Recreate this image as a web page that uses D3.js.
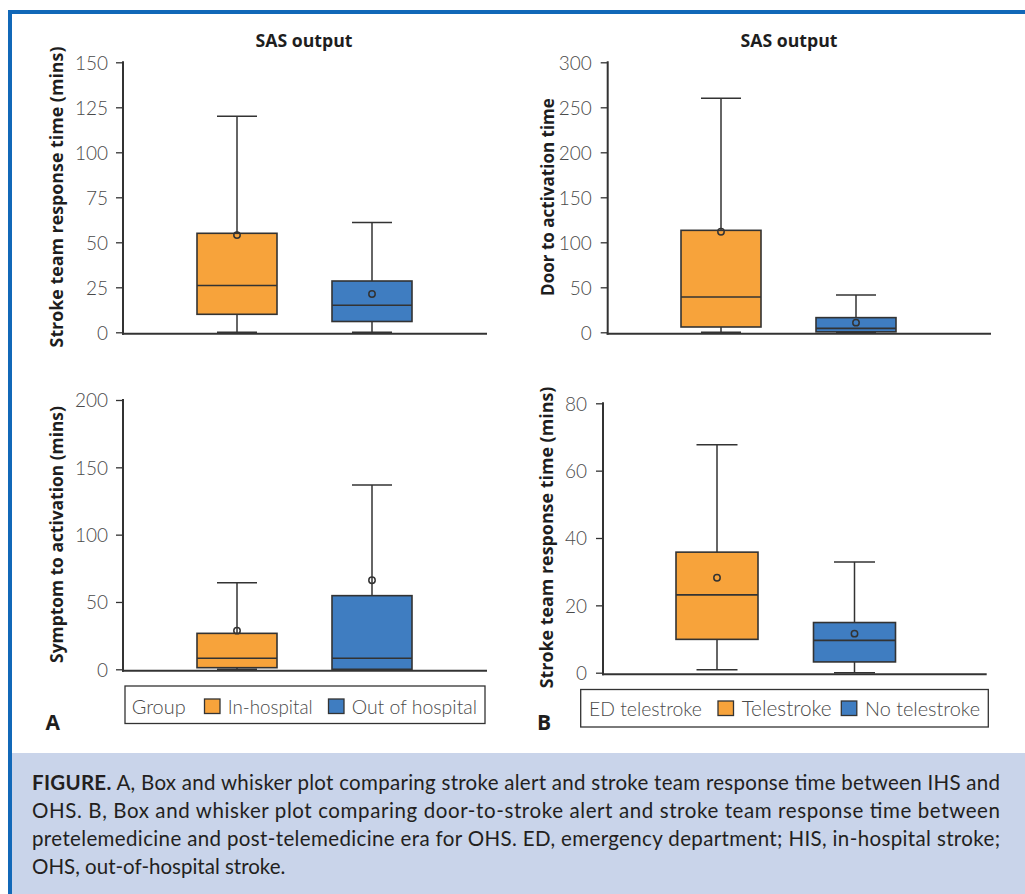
<!DOCTYPE html>
<html>
<head>
<meta charset="utf-8">
<script src="https://cdn.jsdelivr.net/npm/d3@7"></script>
<style>
  html, body { margin: 0; padding: 0; background: #ffffff; }
  svg { display: block; }
</style>
</head>
<body>
<svg id="chart" width="1025" height="894"></svg>
<script>
// ---------------- DATA ----------------
// Each row: [min, q1, median, q3, max, mean]
const groupsA = ["In-hospital", "Out of hospital"];
const groupsB = ["Telestroke", "No telestroke"];

const responseA = [          // Stroke team response time (mins), panel A top
  [0, 10, 26, 55, 120, 54],
  [0, 6, 15, 28.5, 61, 21.3]
];
const symptomA = [           // Symptom to activation (mins), panel A bottom
  [0, 1.2, 8.2, 26.7, 64.3, 28.7],
  [0, 0, 8.2, 54.7, 136.8, 66.1]
];
const doorB = [              // Door to activation time, panel B top
  [0, 5.9, 39.2, 113.3, 260, 111.8],
  [0, 0.5, 4.4, 16.3, 41.4, 10.7]
];
const responseB = [          // Stroke team response time (mins), panel B bottom
  [0.9, 9.9, 23.1, 35.8, 67.7, 28.2],
  [0, 3.2, 9.6, 14.9, 32.9, 11.6]
];

const ticksResponseA = [0, 25, 50, 75, 100, 125, 150];
const ticksSymptomA = [0, 50, 100, 150, 200];
const ticksDoorB = [0, 50, 100, 150, 200, 250, 300];
const ticksResponseB = [0, 20, 40, 60, 80];

const legendTitleA = "Group";
const legendTitleB = "ED telestroke";
const chartTitle = "SAS output";

const captionLines = [
  ["FIGURE.", " A, Box and whisker plot comparing stroke alert and stroke team response time between IHS and"],
  ["", "OHS. B, Box and whisker plot comparing door-to-stroke alert and stroke team response time between"],
  ["", "pretelemedicine and post-telemedicine era for OHS. ED, emergency department; HIS, in-hospital stroke;"],
  ["", "OHS, out-of-hospital stroke."]
];

// ---------------- STYLE ----------------
const ORANGE = "#f7a33b";
const BLUE = "#3f7dc1";
const DARK = "#333333";
const TICKTXT = "#4a4a4a";
const BORDER = "#1168b8";
const CAPBG = "#c9d4ea";
const FONT_T = "Lato, 'Open Sans', sans-serif";
const FONT_B = "'Open Sans', Lato, sans-serif";

const svg = d3.select("#chart");

function fitFont(sel, target) {
  const node = sel.node();
  const fs = parseFloat(sel.attr("font-size"));
  const w = node.getComputedTextLength();
  if (w > 0) sel.attr("font-size", (fs * target / w).toFixed(2));
}

// Frame
svg.append("rect").attr("x", 8).attr("y", 10).attr("width", 1017).attr("height", 4).attr("fill", BORDER);
svg.append("rect").attr("x", 8).attr("y", 10).attr("width", 4).attr("height", 884).attr("fill", BORDER);
svg.append("rect").attr("x", 12).attr("y", 753).attr("width", 1013).attr("height", 141).attr("fill", CAPBG);

// ---------------- PANELS ----------------
const panels = [
  { data: responseA, groups: groupsA, ticks: ticksResponseA, max: 150,
    ax: 123, yTop: 62.3, y0: 332.3, xEnd: 487, c0: 237, c1: 372, bw: 80,
    title: true, titleX: 304, label: "Stroke team response time (mins)", labX: 57, labY: 197, labLen: 301, tickGap: 15 },
  { data: doorB, groups: groupsB, ticks: ticksDoorB, max: 300,
    ax: 607.7, yTop: 62.3, y0: 332.3, xEnd: 991, c0: 721, c1: 856, bw: 80,
    title: true, titleX: 789, label: "Door to activation time", labX: 548, labY: 197, labLen: 198, tickGap: 16 },
  { data: symptomA, groups: groupsA, ticks: ticksSymptomA, max: 200,
    ax: 123, yTop: 400, y0: 669.3, xEnd: 487, c0: 237, c1: 372, bw: 80,
    title: false, label: "Symptom to activation (mins)", labX: 57, labY: 534.5, labLen: 257, tickGap: 15 },
  { data: responseB, groups: groupsB, ticks: ticksResponseB, max: 80,
    ax: 603, yTop: 403.3, y0: 672.7, xEnd: 986.7, c0: 717, c1: 854.5, bw: 82,
    title: false, label: "Stroke team response time (mins)", labX: 546.7, labY: 537.5, labLen: 301.7, tickGap: 16 }
];

const colors = [ORANGE, BLUE];

panels.forEach(p => {
  const g = svg.append("g");
  const y = d3.scaleLinear().domain([0, p.max]).range([p.y0, p.yTop]);
  const x = d3.scalePoint().domain(p.groups).range([p.c0, p.c1]);

  // Y axis
  const yAxis = d3.axisLeft(y).tickValues(p.ticks).tickSize(7).tickPadding(p.tickGap - 7).tickFormat(d3.format("d"));
  const ya = g.append("g").attr("transform", `translate(${p.ax},0)`).call(yAxis);
  ya.select(".domain").attr("stroke", DARK).attr("stroke-width", 2).attr("d", `M0,${p.yTop - 1}V${p.y0 + 2.5}`);
  ya.selectAll(".tick line").attr("stroke", DARK).attr("stroke-width", 1.3);
  ya.selectAll(".tick text").attr("fill", TICKTXT).attr("font-family", FONT_T)
    .attr("font-weight", 300).attr("font-size", 19).attr("dy", "0.36em");

  // X axis line
  g.append("line").attr("x1", p.ax - 1).attr("x2", p.xEnd)
    .attr("y1", p.y0 + 1.5).attr("y2", p.y0 + 1.5)
    .attr("stroke", DARK).attr("stroke-width", 2);

  // Boxes
  p.data.forEach((d, i) => {
    const [mn, q1, md, q3, mx, mean] = d;
    const cx = x(p.groups[i]);
    const bg = g.append("g");
    bg.append("line").attr("x1", cx).attr("x2", cx).attr("y1", y(q3)).attr("y2", y(mx))
      .attr("stroke", DARK).attr("stroke-width", 1.5);
    bg.append("line").attr("x1", cx).attr("x2", cx).attr("y1", y(q1)).attr("y2", y(mn))
      .attr("stroke", DARK).attr("stroke-width", 1.5);
    bg.append("line").attr("x1", cx - p.bw / 4).attr("x2", cx + p.bw / 4).attr("y1", y(mx)).attr("y2", y(mx))
      .attr("stroke", DARK).attr("stroke-width", 1.5);
    bg.append("line").attr("x1", cx - p.bw / 4).attr("x2", cx + p.bw / 4).attr("y1", y(mn)).attr("y2", y(mn))
      .attr("stroke", DARK).attr("stroke-width", 1.5);
    bg.append("rect").attr("x", cx - p.bw / 2).attr("width", p.bw)
      .attr("y", y(q3)).attr("height", Math.max(0.5, y(q1) - y(q3)))
      .attr("fill", colors[i]).attr("stroke", DARK).attr("stroke-width", 1.6);
    bg.append("line").attr("x1", cx - p.bw / 2).attr("x2", cx + p.bw / 2).attr("y1", y(md)).attr("y2", y(md))
      .attr("stroke", DARK).attr("stroke-width", 1.6);
    bg.append("circle").attr("cx", cx).attr("cy", y(mean)).attr("r", 3.2)
      .attr("fill", "none").attr("stroke", DARK).attr("stroke-width", 1.5);
  });

  if (p.title) {
    const t = g.append("text").attr("x", p.titleX).attr("y", 47).attr("text-anchor", "middle")
      .attr("font-family", FONT_B).attr("font-weight", 700).attr("font-size", 17)
      .attr("fill", "#1e1e1e").text(chartTitle);
    fitFont(t, 97);
  }

  const lab = g.append("text").attr("transform", `translate(${p.labX},${p.labY}) rotate(-90)`)
    .attr("text-anchor", "middle").attr("dy", "0.35em")
    .attr("font-family", FONT_B).attr("font-weight", 700).attr("font-size", 17)
    .attr("fill", "#1e1e1e").text(p.label);
  fitFont(lab, p.labLen);
});

// ---------------- LEGENDS ----------------
function legend(box, title, groups, pos) {
  const g = svg.append("g");
  g.append("rect").attr("x", box.x).attr("y", box.y).attr("width", box.w).attr("height", box.h)
    .attr("fill", "#fff").attr("stroke", DARK).attr("stroke-width", 1.3);
  const mk = (x, txt) => g.append("text").attr("x", x).attr("y", pos.base)
    .attr("font-family", FONT_T).attr("font-weight", 300).attr("font-size", 19)
    .attr("fill", TICKTXT).text(txt);
  const t0 = mk(pos.title, title);
  fitFont(t0, pos.titleW);
  groups.forEach((gr, i) => {
    g.append("rect").attr("x", pos.sw[i]).attr("y", pos.swY).attr("width", 15.5).attr("height", 14.5)
      .attr("fill", colors[i]).attr("stroke", DARK).attr("stroke-width", 1.3);
    const t = mk(pos.tx[i], gr);
    fitFont(t, pos.tw[i]);
  });
}

legend({ x: 125, y: 686, w: 360, h: 37.5 }, legendTitleA, groupsA,
  { base: 713.5, title: 131.7, titleW: 54, sw: [204.5, 328.5], swY: 699, tx: [227.7, 351.7], tw: [85, 125.5] });
legend({ x: 580.7, y: 689.5, w: 407.6, h: 37.5 }, legendTitleB, groupsB,
  { base: 716, title: 589, titleW: 113, sw: [718, 841.3], swY: 701, tx: [741.7, 865], tw: [90, 115] });

svg.append("text").attr("x", 45.5).attr("y", 730).attr("font-family", FONT_B).attr("font-weight", 700)
  .attr("font-size", 21).attr("fill", "#1e1e1e").text("A");
svg.append("text").attr("x", 537).attr("y", 730).attr("font-family", FONT_B).attr("font-weight", 700)
  .attr("font-size", 21).attr("fill", "#1e1e1e").text("B");

// ---------------- CAPTION ----------------
const capBase = [790, 818, 846, 874];
const capTexts = captionLines.map((ln, i) => {
  const t = svg.append("text").attr("x", 32).attr("y", capBase[i])
    .attr("font-family", FONT_T).attr("font-size", 18.5).attr("fill", "#231f20");
  if (ln[0]) t.append("tspan").attr("font-weight", 700).attr("font-family", FONT_T).text(ln[0]);
  t.append("tspan").attr("font-weight", 400).text(ln[1]);
  return t;
});
// size the caption so that its widest line naturally fills the column
const widest = d3.max(capTexts.slice(0, 3), t => t.node().getComputedTextLength());
const capSize = Math.min(20.5, 18.5 * 962 / widest);
capTexts.forEach((t, i) => {
  t.attr("font-size", capSize.toFixed(2));
  if (i < 3) t.attr("textLength", 968).attr("lengthAdjust", "spacing");
});
</script>
</body>
</html>
